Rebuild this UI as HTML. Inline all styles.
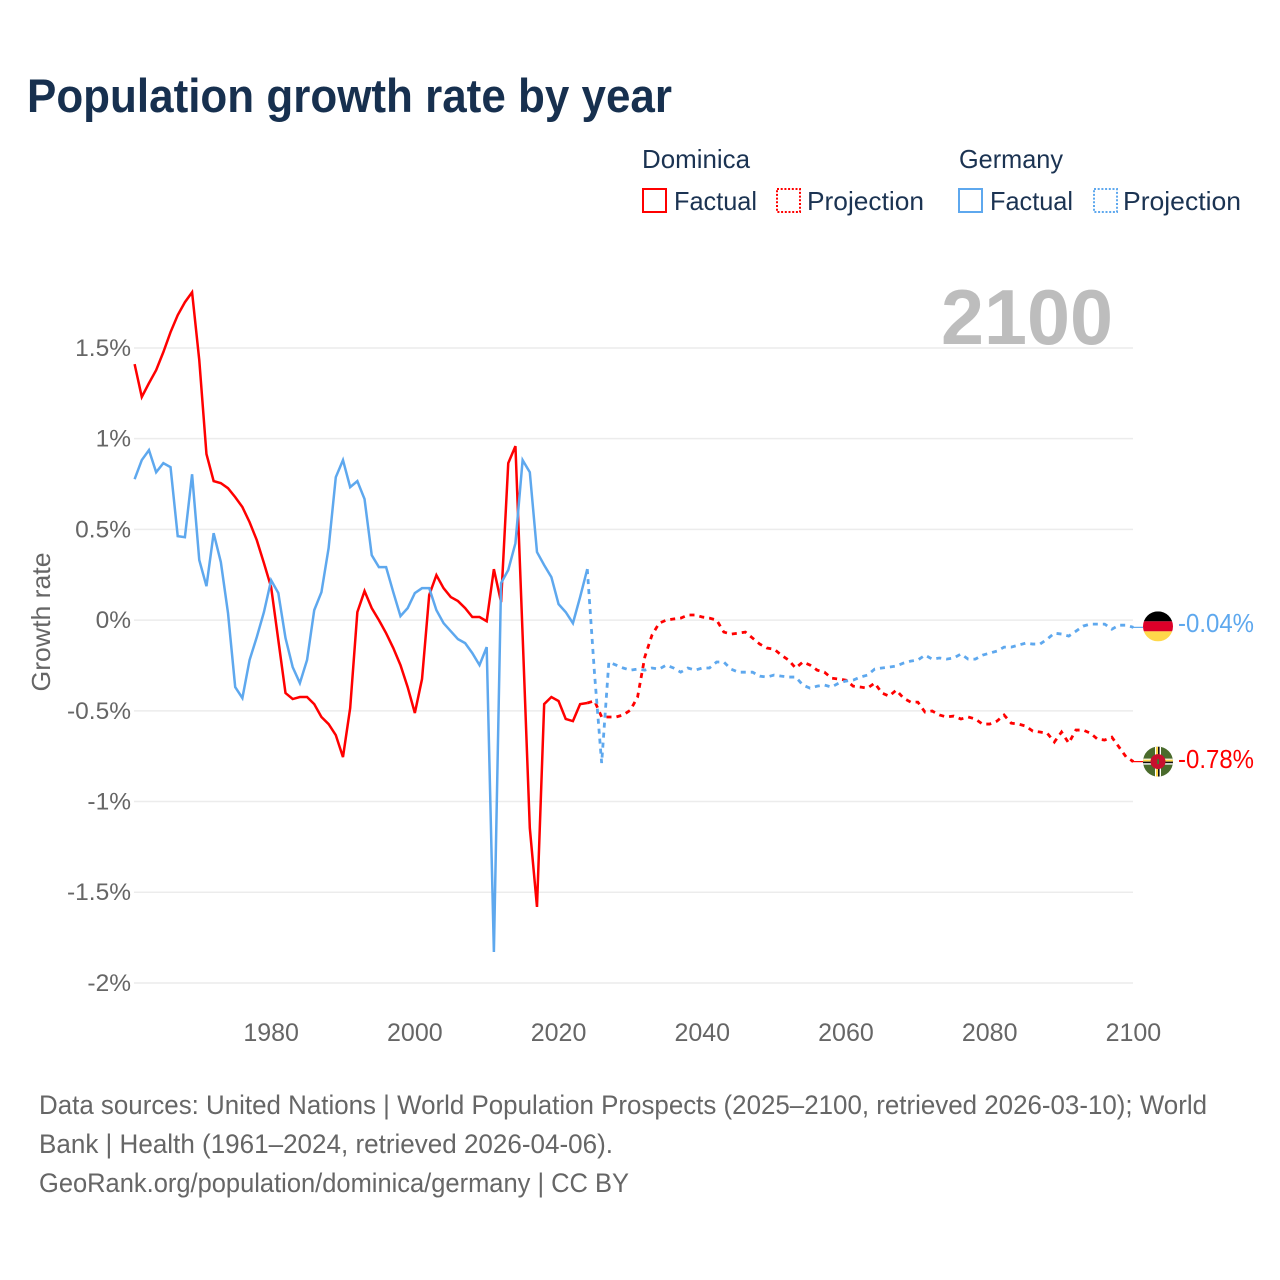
<!DOCTYPE html>
<html lang="en">
<head>
<meta charset="utf-8">
<title>Population growth rate by year</title>
<style>
html,body{margin:0;padding:0;background:#fff;}
svg{display:block;font-family:"Liberation Sans",sans-serif;}
</style>
</head>
<body>
<svg id="chart" width="1280" height="1280" viewBox="0 0 1280 1280" xmlns="http://www.w3.org/2000/svg">
  <rect x="0" y="0" width="1280" height="1280" fill="#ffffff"/>
  <text x="27" y="112" font-size="47" font-weight="700" fill="#17304f" textLength="645" lengthAdjust="spacingAndGlyphs">Population growth rate by year</text>

  <g font-size="26" fill="#1b3352">
    <text x="642" y="168" textLength="108" lengthAdjust="spacingAndGlyphs">Dominica</text>
    <text x="959" y="168" textLength="104" lengthAdjust="spacingAndGlyphs">Germany</text>
    <g>
      <rect x="643" y="189" width="23" height="23" fill="none" stroke="#ff0000" stroke-width="2"/>
      <text x="674" y="210" textLength="83" lengthAdjust="spacingAndGlyphs">Factual</text>
    </g>
    <g>
      <rect x="777" y="189" width="23" height="23" fill="none" stroke="#ff0000" stroke-width="2" stroke-dasharray="2 1.7"/>
      <text x="807" y="210" textLength="117" lengthAdjust="spacingAndGlyphs">Projection</text>
    </g>
    <g>
      <rect x="959" y="189" width="23" height="23" fill="none" stroke="#5ea8ee" stroke-width="2"/>
      <text x="990" y="210" textLength="83" lengthAdjust="spacingAndGlyphs">Factual</text>
    </g>
    <g>
      <rect x="1094" y="189" width="23" height="23" fill="none" stroke="#5ea8ee" stroke-width="2" stroke-dasharray="2 1.7"/>
      <text x="1123" y="210" textLength="118" lengthAdjust="spacingAndGlyphs">Projection</text>
    </g>
  </g>

  <g id="grid"></g>
  <g id="yticks"></g>
  <g id="xticks"></g>

  <text transform="translate(50,622) rotate(-90)" text-anchor="middle" font-size="26" fill="#666666" textLength="139" lengthAdjust="spacingAndGlyphs">Growth rate</text>
  <text x="1113" y="344" text-anchor="end" font-size="78" font-weight="700" fill="#bdbdbd" textLength="172" lengthAdjust="spacingAndGlyphs">2100</text>

  <g id="series"></g>

  <defs>
    <clipPath id="flag-clip"><circle cx="0" cy="0" r="15"/></clipPath>
  </defs>
  <g id="flag-germany" clip-path="url(#flag-clip)">
    <rect x="-15" y="-15" width="30" height="10" fill="#000000"/>
    <rect x="-15" y="-5" width="30" height="10" fill="#dd0029"/>
    <rect x="-15" y="5" width="30" height="10" fill="#ffd84a"/>
  </g>
  <g id="flag-dominica" clip-path="url(#flag-clip)">
    <rect x="-15" y="-15" width="30" height="30" fill="#4a6b2c"/>
    <rect x="-15" y="-3" width="30" height="6" fill="#ffffff"/>
    <rect x="-15" y="-2" width="30" height="2" fill="#ffd84a"/>
    <rect x="-15" y="0" width="30" height="1.6" fill="#111111"/>
    <rect x="-3" y="-15" width="6" height="30" fill="#ffffff"/>
    <rect x="-2" y="-15" width="2" height="30" fill="#ffd84a"/>
    <rect x="0" y="-15" width="1.6" height="30" fill="#111111"/>
    <circle cx="0" cy="0" r="7.5" fill="#c8102e"/>
    <rect x="-0.8" y="-2.5" width="1.8" height="5" fill="#3f7a2e"/>
  </g>
  <text id="value-germany" x="1178" font-size="26" fill="#5ea8ee" textLength="76" lengthAdjust="spacingAndGlyphs">-0.04%</text>
  <text id="value-dominica" x="1178" font-size="26" fill="#ff0000" textLength="76" lengthAdjust="spacingAndGlyphs">-0.78%</text>

  <g font-size="27" fill="#666666">
    <text x="39" y="1114" textLength="1168" lengthAdjust="spacingAndGlyphs">Data sources: United Nations | World Population Prospects (2025–2100, retrieved 2026-03-10); World</text>
    <text x="39" y="1153" textLength="574" lengthAdjust="spacingAndGlyphs">Bank | Health (1961–2024, retrieved 2026-04-06).</text>
    <text x="39" y="1192" textLength="590" lengthAdjust="spacingAndGlyphs">GeoRank.org/population/dominica/germany | CC BY</text>
  </g>
</svg>
<script>
const firstFactualYear = 1961;
const firstProjectionYear = 2025;
const yTickValues = [1.5, 1, 0.5, 0, -0.5, -1, -1.5, -2];
const yTickLabels = ["1.5%", "1%", "0.5%", "0%", "-0.5%", "-1%", "-1.5%", "-2%"];
const xTickYears = [1980, 2000, 2020, 2040, 2060, 2080, 2100];

const dominicaFactual = [
  1.411,1.230,1.306,1.378,1.477,1.587,1.681,1.752,1.807,1.433,
  0.915,0.766,0.755,0.727,0.678,0.623,0.540,0.441,0.314,0.182,
  -0.110,-0.402,-0.435,-0.424,-0.424,-0.463,-0.534,-0.573,-0.634,-0.755,
  -0.485,0.044,0.160,0.066,0.000,-0.072,-0.154,-0.248,-0.369,-0.512,
  -0.325,0.138,0.248,0.176,0.127,0.105,0.066,0.017,0.017,-0.006,
  0.281,0.099,0.865,0.959,-0.083,-1.146,-1.581,-0.463,-0.424,-0.446,
  -0.545,-0.557,-0.463,-0.457
];
const dominicaProjection = [
  -0.445,-0.534,-0.534,-0.534,-0.523,-0.496,-0.424,-0.204,-0.083,-0.017,
  0.000,0.006,0.011,0.028,0.028,0.017,0.011,0.000,-0.066,-0.077,
  -0.072,-0.066,-0.099,-0.132,-0.154,-0.160,-0.193,-0.220,-0.264,-0.231,
  -0.248,-0.276,-0.287,-0.320,-0.325,-0.331,-0.364,-0.369,-0.375,-0.347,
  -0.402,-0.419,-0.386,-0.430,-0.452,-0.452,-0.507,-0.501,-0.523,-0.534,
  -0.529,-0.545,-0.534,-0.545,-0.573,-0.573,-0.557,-0.523,-0.568,-0.573,
  -0.584,-0.612,-0.617,-0.623,-0.672,-0.617,-0.678,-0.606,-0.606,-0.623,
  -0.656,-0.661,-0.645,-0.700,-0.755,-0.780
];
const germanyFactual = [
  0.777,0.882,0.937,0.815,0.865,0.843,0.463,0.457,0.804,0.331,
  0.187,0.479,0.320,0.039,-0.369,-0.430,-0.220,-0.094,0.044,0.220,
  0.149,-0.099,-0.259,-0.347,-0.220,0.055,0.154,0.397,0.788,0.882,
  0.733,0.766,0.667,0.358,0.292,0.292,0.154,0.022,0.066,0.149,
  0.176,0.176,0.055,-0.017,-0.061,-0.105,-0.127,-0.182,-0.248,-0.149,
  -1.829,0.204,0.276,0.424,0.882,0.815,0.375,0.303,0.237,0.088,
  0.044,-0.017,0.127,0.281
];
const germanyProjection = [
  -0.292,-0.788,-0.231,-0.248,-0.264,-0.276,-0.270,-0.276,-0.264,-0.270,
  -0.248,-0.264,-0.287,-0.264,-0.276,-0.264,-0.264,-0.231,-0.231,-0.270,
  -0.287,-0.287,-0.287,-0.309,-0.314,-0.303,-0.309,-0.314,-0.314,-0.358,
  -0.375,-0.364,-0.358,-0.369,-0.347,-0.336,-0.331,-0.314,-0.303,-0.270,
  -0.264,-0.259,-0.253,-0.237,-0.226,-0.220,-0.193,-0.215,-0.209,-0.215,
  -0.209,-0.187,-0.215,-0.215,-0.193,-0.182,-0.171,-0.149,-0.149,-0.138,
  -0.127,-0.132,-0.132,-0.105,-0.072,-0.077,-0.088,-0.061,-0.033,-0.022,
  -0.022,-0.022,-0.050,-0.028,-0.028,-0.040
];

const SVG_NS = "http://www.w3.org/2000/svg";
function xScale(year) { return 134.6 + (year - 1961) * (1133.4 - 134.6) / 139; }
function yScale(value) { return 620.1 - value * 181.43; }

const gridGroup = document.getElementById("grid");
const yTickGroup = document.getElementById("yticks");
const xTickGroup = document.getElementById("xticks");
const seriesGroup = document.getElementById("series");

yTickValues.forEach(function (v, i) {
  const line = document.createElementNS(SVG_NS, "line");
  
  
  line.setAttribute("x1", 134);
  line.setAttribute("x2", 1133);
  line.setAttribute("y1", yScale(v));
  line.setAttribute("y2", yScale(v));
  line.setAttribute("stroke", "#ececec");
  line.setAttribute("stroke-width", "1.5");
  gridGroup.appendChild(line);

  const label = document.createElementNS(SVG_NS, "text");
  
  
  label.setAttribute("x", 131);
  label.setAttribute("y", yScale(v) + 8);
  label.setAttribute("text-anchor", "end");
  label.setAttribute("font-size", "24.5");
  label.setAttribute("fill", "#666666");
  label.textContent = yTickLabels[i];
  yTickGroup.appendChild(label);
});

xTickYears.forEach(function (year) {
  const label = document.createElementNS(SVG_NS, "text");
  
  
  label.setAttribute("x", xScale(year));
  label.setAttribute("y", 1041);
  label.setAttribute("text-anchor", "middle");
  label.setAttribute("font-size", "25");
  label.setAttribute("fill", "#666666");
  label.textContent = String(year);
  xTickGroup.appendChild(label);
});

function pathFrom(values, startYear, prefix) {
  let d = prefix || "";
  values.forEach(function (v, i) {
    const cmd = (d === "") ? "M" : "L";
    d += cmd + xScale(startYear + i).toFixed(2) + " " + yScale(v).toFixed(2) + " ";
  });
  return d;
}

function drawFactual(values, color, name) {
  const path = document.createElementNS(SVG_NS, "path");
  
  
  path.setAttribute("d", pathFrom(values, firstFactualYear));
  path.setAttribute("fill", "none");
  path.setAttribute("stroke", color);
  path.setAttribute("stroke-width", "2.5");
  path.setAttribute("stroke-linejoin", "miter");
  seriesGroup.appendChild(path);
}

function drawProjection(factual, projection, color, name) {
  const lastYear = firstFactualYear + factual.length - 1;
  const startD = "M" + xScale(lastYear).toFixed(2) + " " + yScale(factual[factual.length - 1]).toFixed(2) + " ";
  const path = document.createElementNS(SVG_NS, "path");
  
  
  path.setAttribute("d", pathFrom(projection, firstProjectionYear, startD));
  path.setAttribute("fill", "none");
  path.setAttribute("stroke", color);
  path.setAttribute("stroke-width", "2.8");
  path.setAttribute("stroke-dasharray", "5 5");
  seriesGroup.appendChild(path);
}

function drawConnector(value, color, name) {
  const line = document.createElementNS(SVG_NS, "line");
  
  
  line.setAttribute("x1", 1131);
  line.setAttribute("x2", 1143);
  line.setAttribute("y1", yScale(value));
  line.setAttribute("y2", yScale(value));
  line.setAttribute("stroke", color);
  line.setAttribute("stroke-width", "1.2");
  seriesGroup.appendChild(line);
}

drawProjection(dominicaFactual, dominicaProjection, "#ff0000", "dominica-projection-line");
drawFactual(dominicaFactual, "#ff0000", "dominica-factual-line");
drawProjection(germanyFactual, germanyProjection, "#5ea8ee", "germany-projection-line");
drawFactual(germanyFactual, "#5ea8ee", "germany-factual-line");

const germanyEnd = germanyProjection[germanyProjection.length - 1];
const dominicaEnd = dominicaProjection[dominicaProjection.length - 1];
drawConnector(germanyEnd, "#5ea8ee", "germany-end-connector");
drawConnector(dominicaEnd, "#ff0000", "dominica-end-connector");

document.getElementById("flag-germany").setAttribute("transform", "translate(1158," + (yScale(germanyEnd) - 1) + ")");
document.getElementById("flag-dominica").setAttribute("transform", "translate(1158," + yScale(dominicaEnd) + ")");
document.getElementById("value-germany").setAttribute("y", yScale(germanyEnd) + 4.5);
document.getElementById("value-dominica").setAttribute("y", yScale(dominicaEnd) + 6.5);
</script>
</body>
</html>
